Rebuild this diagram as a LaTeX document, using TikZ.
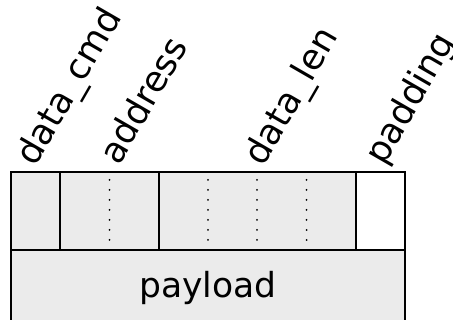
\documentclass[tikz,border=0pt]{standalone}
\usepackage{fontspec}
\setmainfont{DejaVu Sans}
\definecolor{cellgray}{HTML}{EBEBEB}
\begin{document}
\begin{tikzpicture}[x=1pt,y=-1pt,
  cell/.style={draw=black, line width=2pt, fill=cellgray},
  padcell/.style={draw=black, line width=2pt, fill=white},
  sep/.style={draw=black, line width=2pt},
  dotsep/.style={draw=black, line width=2pt, line cap=round, dash pattern=on 0pt off 10pt},
  lbl/.style={anchor=base west, rotate=60, inner sep=0pt, font=\fontsize{35.5}{40}\selectfont},
  big/.style={anchor=base, inner sep=0pt, font=\fontsize{34.5}{40}\selectfont}]
\useasboundingbox (0,0) rectangle (453,320);
% header row
\path[cell] (11,172) rectangle (356,250);
\path[padcell] (356,172) rectangle (405,250);
\path[sep] (60,172) -- (60,250);
\path[sep] (158.5,172) -- (158.5,250);
% byte dividers (dotted)
\foreach \x in {109.5,208,257,306.5}{
  \path[dotsep] (\x,180) -- (\x,240.5);
}
% payload row
\path[cell] (11,250) rectangle (405,350);
\node[big] (payload) at (208,298) {payload};
% field labels
\node[lbl] (lcmd) at (35,168) {data\_cmd};
\node[lbl] (laddr) at (119,167) {address};
\node[lbl] (llen) at (263,168) {data\_len};
\node[lbl] (lpad) at (384,167) {padding};
\end{tikzpicture}
\end{document}
